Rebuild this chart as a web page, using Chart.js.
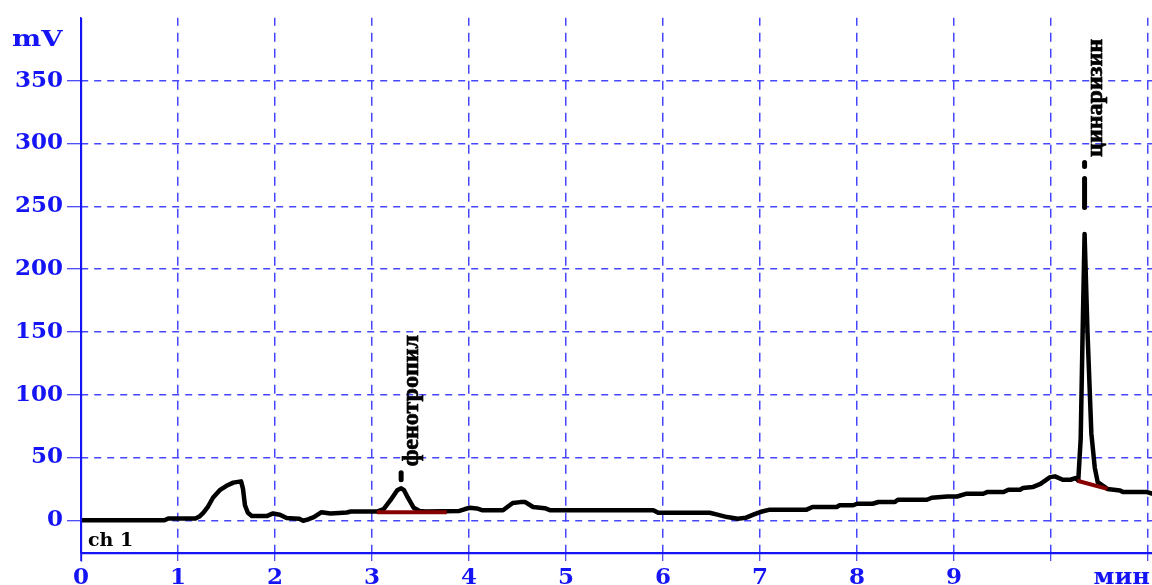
<!DOCTYPE html>
<html>
<head>
<meta charset="utf-8">
<script src="https://cdn.jsdelivr.net/npm/chart.js@4"></script>
<style>
  html, body { margin: 0; padding: 0; background: #fff; }
  #chrom { display: block; }
</style>
</head>
<body>
<canvas id="chrom" width="1152" height="585"></canvas>
<script>
// Detector trace, channel 1: retention time (min) and signal (mV)
const times = [
  0.00, 0.86, 0.90, 1.18, 1.22, 1.26, 1.31, 1.36, 1.43, 1.50, 1.57, 1.65, 1.67, 1.69, 1.72, 1.76,
  1.92, 1.98, 2.05, 2.12, 2.20, 2.25, 2.29, 2.34, 2.40, 2.48, 2.57, 2.66, 2.74, 2.78, 3.05, 3.12,
  3.19, 3.26, 3.30, 3.33, 3.37, 3.43, 3.49, 3.55, 3.90, 3.96, 4.01, 4.08, 4.14, 4.35, 4.45, 4.53,
  4.58, 4.66, 4.78, 4.84, 5.90, 5.95, 6.48, 6.56, 6.66, 6.77, 6.85, 6.93, 7.00, 7.10, 7.48, 7.54,
  7.79, 7.82, 7.96, 8.00, 8.16, 8.22, 8.39, 8.42, 8.72, 8.77, 8.93, 9.03, 9.13, 9.30, 9.34, 9.51,
  9.56, 9.68, 9.71, 9.81, 9.89, 9.99, 10.04, 10.12, 10.20, 10.25, 10.28, 10.305, 10.325, 10.345,
  10.375, 10.415, 10.45, 10.48, 10.58, 10.71, 10.74, 10.99, 11.04
];
const signal = [
  0, 0, 1.5, 1.5, 3, 6, 11, 18, 24, 27.5, 30, 31, 25, 12, 6, 3.5,
  3.5, 5.5, 4.5, 1.8, 1.5, 1.2, -0.3, 0.8, 2.5, 6.5, 5.5, 5.8, 6.2, 7, 7, 9,
  16, 24, 25.5, 24, 18, 10, 7.5, 7, 7.5, 9, 10, 9.5, 8, 8, 13.8, 14.5,
  14.5, 10.6, 9.7, 8, 8, 6, 6, 4.5, 2.6, 1.3, 2, 4.5, 6.6, 8.5, 8.5, 10.6,
  10.6, 12, 12, 13.2, 13.2, 14.6, 14.6, 16.4, 16.4, 18, 19, 19, 21.2, 21.2, 22.5, 22.5,
  24.4, 24.4, 25.7, 26.5, 29, 34.4, 35, 32.3, 32.3, 33.6, 31.7, 65, 150, 228,
  150, 69, 42, 30.4, 25, 23.8, 22.5, 22.5, 21.2
];

// Integration baselines under the identified peaks (start/end time and level)
const baselineTimes  = [[3.05, 3.77], [10.27, 10.58]];
const baselineValues = [[6.5, 6.5], [31.5, 25]];

// Identified peaks
const peakNames   = ['фенотропил', 'цинаризин'];
const peakTimes   = [3.30, 10.345];
const peakHeights = [25.5, 228];

// Axes
const xTickValues = [0, 1, 2, 3, 4, 5, 6, 7, 8, 9, 10, 11];
const xTickLabels = ['0', '1', '2', '3', '4', '5', '6', '7', '8', '9', '', ''];
const yTickValues = [0, 50, 100, 150, 200, 250, 300, 350];
const yTickLabels = ['0', '50', '100', '150', '200', '250', '300', '350'];
const xUnit = 'мин';
const yUnit = 'mV';
const channelName = 'ch 1';

// Styling
const BLUE = 'rgb(20,20,245)';
const GRID = 'rgb(70,70,255)';
const AXIS_FONT = '"DejaVu Serif", serif';
const LABEL_FONT = '"Liberation Serif", "Times New Roman", serif';
// per-peak marker geometry in pixels above the apex
const peakMarks = [
  { lift: 22, dashes: [[15.5, 8.5]] },
  { lift: 77, dashes: [[71.5, 67.5], [55.5, 26.5]] }
];

function stretchedText(ctx, text, x, y, sx, align) {
  ctx.save();
  ctx.translate(x, y);
  ctx.scale(sx, 1);
  ctx.textAlign = align;
  ctx.fillText(text, 0, 0);
  ctx.restore();
}

const chromDecor = {
  id: 'chromDecor',
  beforeDraw(chart) {
    const ctx = chart.ctx;
    ctx.save();
    ctx.fillStyle = '#fff';
    ctx.fillRect(0, 0, chart.width, chart.height);
    ctx.restore();
  },
  afterDraw(chart) {
    const { ctx, chartArea, scales: { x, y } } = chart;
    ctx.save();

    // solid axis lines (grid lines themselves are dashed)
    ctx.strokeStyle = BLUE;
    ctx.lineWidth = 1.3;
    ctx.setLineDash([]);
    const lx = Math.round(chartArea.left) + 0.5;
    const by = Math.round(chartArea.bottom) + 0.5;
    ctx.beginPath();
    ctx.moveTo(lx, chartArea.top);
    ctx.lineTo(lx, by + 8);
    ctx.moveTo(lx, by);
    ctx.lineTo(chartArea.right, by);
    ctx.stroke();

    ctx.textBaseline = 'alphabetic';

    // unit captions
    ctx.fillStyle = BLUE;
    ctx.font = 'bold 23px ' + AXIS_FONT;
    stretchedText(ctx, yUnit, 12, 46, 1.2, 'left');
    stretchedText(ctx, xUnit, chartArea.right - 2, 584, 1.05, 'right');

    // channel name
    ctx.fillStyle = '#000';
    ctx.font = 'bold 19px ' + AXIS_FONT;
    ctx.textAlign = 'left';
    ctx.fillText(channelName, chartArea.left + 7, chartArea.bottom - 7);

    // peak markers and names
    peakNames.forEach((name, i) => {
      const px = x.getPixelForValue(peakTimes[i]);
      const py = y.getPixelForValue(peakHeights[i]);
      const mark = peakMarks[i];
      ctx.strokeStyle = '#000';
      ctx.lineWidth = 5;
      ctx.lineCap = 'round';
      mark.dashes.forEach(([a, b]) => {
        ctx.beginPath();
        ctx.moveTo(px, py - a);
        ctx.lineTo(px, py - b);
        ctx.stroke();
      });
      ctx.save();
      ctx.translate(px + 17, py - mark.lift);
      ctx.rotate(-Math.PI / 2);
      ctx.fillStyle = '#000';
      ctx.strokeStyle = '#000';
      ctx.lineWidth = 0.7;
      ctx.font = 'bold 24px ' + LABEL_FONT;
      ctx.textAlign = 'left';
      ctx.fillText(name, 0, 0);
      ctx.strokeText(name, 0, 0);
      ctx.restore();
    });
    ctx.restore();
  }
};

const traceData = times.map((t, i) => ({ x: t, y: signal[i] }));
const baselineSets = baselineTimes.map((pair, k) => ({
  data: pair.map((t, j) => ({ x: t, y: baselineValues[k][j] })),
  borderColor: 'rgb(135,0,0)',
  borderWidth: 4,
  pointRadius: 0,
  showLine: true,
  tension: 0,
  order: 0
}));

new Chart(document.getElementById('chrom'), {
  type: 'scatter',
  data: {
    datasets: [
      ...baselineSets,
      {
        data: traceData,
        borderColor: '#000',
        borderWidth: 4.5,
        borderJoinStyle: 'round',
        borderCapStyle: 'round',
        pointRadius: 0,
        showLine: true,
        tension: 0,
        order: 1
      }
    ]
  },
  options: {
    responsive: false,
    animation: false,
    devicePixelRatio: 1,
    layout: { padding: { top: 15, left: 0, right: 0, bottom: 0 } },
    plugins: { legend: { display: false }, tooltip: { enabled: false } },
    scales: {
      x: {
        type: 'linear',
        min: 0,
        max: 11.04,
        afterBuildTicks: s => { s.ticks = xTickValues.map(v => ({ value: v })); },
        afterFit: s => { s.height = 32; },
        ticks: {
          autoSkip: false,
          maxRotation: 0,
          padding: 3,
          color: BLUE,
          font: { family: AXIS_FONT, size: 23, weight: 'bold' },
          callback: v => xTickLabels[xTickValues.indexOf(v)]
        },
        grid: {
          color: GRID,
          lineWidth: 1.5,
          tickLength: 8,
          tickBorderDash: [],
          tickColor: BLUE,
          tickWidth: 1
        },
        border: { display: true, color: BLUE, width: 1.2, dash: [9, 7], dashOffset: 1 }
      },
      y: {
        type: 'linear',
        min: -26,
        max: 400,
        afterBuildTicks: s => { s.ticks = yTickValues.map(v => ({ value: v })); },
        afterFit: s => { s.width = 81; },
        ticks: {
          autoSkip: false,
          padding: 4,
          color: BLUE,
          font: { family: AXIS_FONT, size: 23, weight: 'bold' },
          callback: v => yTickLabels[yTickValues.indexOf(v)]
        },
        grid: {
          color: GRID,
          lineWidth: 1.5,
          tickLength: 14,
          tickBorderDash: [],
          tickColor: BLUE,
          tickWidth: 1
        },
        border: { display: true, color: BLUE, width: 1.2, dash: [7, 6] }
      }
    }
  },
  plugins: [chromDecor]
});
</script>
</body>
</html>
